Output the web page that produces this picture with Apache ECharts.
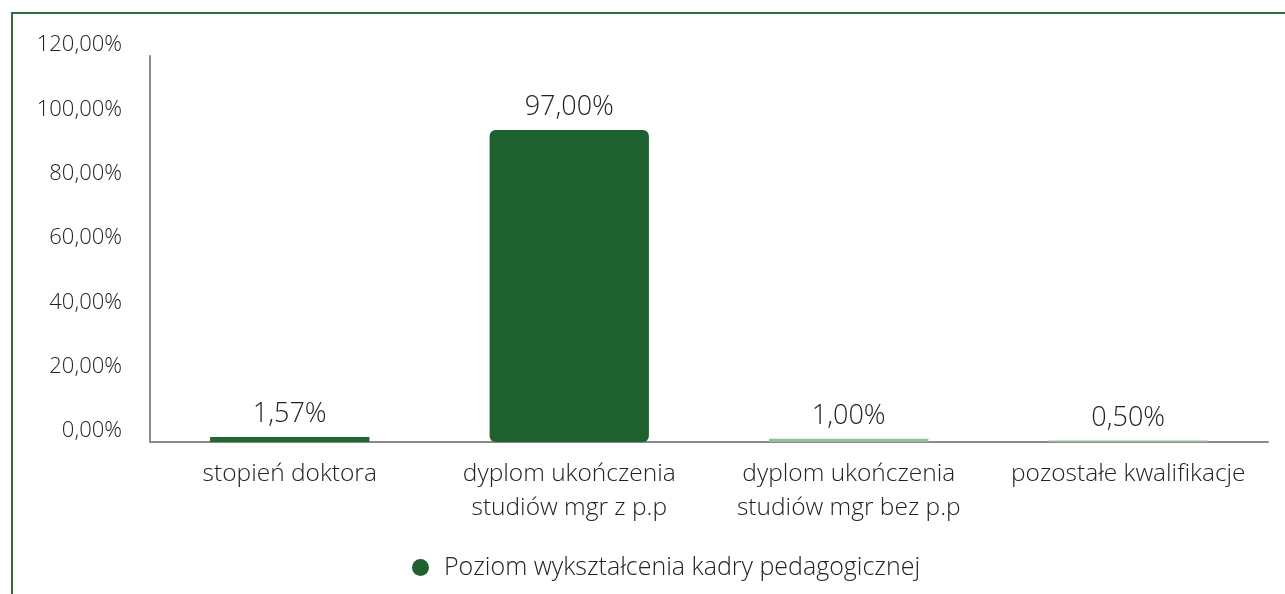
<!DOCTYPE html>
<html>
<head>
<meta charset="utf-8">
<script src="https://cdn.jsdelivr.net/npm/echarts@6/dist/echarts.min.js"></script>
<style>
  html, body { margin: 0; padding: 0; background: #fff; }
  #frame {
    position: absolute; left: 11px; top: 12px; width: 1400px; height: 700px;
    border-left: 2px solid #2f6e3d; border-top: 2px solid #2f6e3d;
  }
  #chart { position: absolute; left: 0; top: 0; width: 1285px; height: 594px; }
</style>
</head>
<body>
<div id="frame"></div>
<div id="chart"></div>
<script>
  // dane wykresu
  const categories = [
    'stopień doktora',
    'dyplom ukończenia\nstudiów mgr z p.p',
    'dyplom ukończenia\nstudiów mgr bez p.p',
    'pozostałe kwalifikacje'
  ]
  const values = [1.57, 97.0, 1.0, 0.5]
  const barColors = ['#21652f', '#1f612e', '#93c09b', '#93c09b']
  const seriesName = 'Poziom wykształcenia kadry pedagogicznej'

  const pct = v => v.toFixed(2).replace('.', ',') + '%'
  const font = '"Open Sans", sans-serif'

  const chart = echarts.init(document.getElementById('chart'))
  chart.setOption({
    textStyle: { fontFamily: font, fontWeight: 300 },
    grid: { left: 150, right: 17, top: 56, bottom: 152 },
    legend: {
      data: [seriesName],
      bottom: 9,
      left: 407,
      icon: 'circle',
      itemWidth: 17,
      itemHeight: 17,
      itemGap: 10,
      textStyle: { fontSize: 25, color: '#222', fontFamily: font, fontWeight: 300, padding: [0, 0, 0, 10] }
    },
    xAxis: {
      type: 'category',
      data: categories,
      axisLine: { lineStyle: { color: '#8a8a8a', width: 2 } },
      axisTick: { show: false },
      axisLabel: {
        fontSize: 24.5, color: '#222', lineHeight: 34, margin: 15,
        fontWeight: 300, interval: 0
      }
    },
    yAxis: {
      type: 'value',
      min: 0, max: 120, interval: 20,
      axisLine: { show: true, lineStyle: { color: '#8a8a8a', width: 2 } },
      axisTick: { show: false },
      splitLine: { show: false },
      axisLabel: {
        fontSize: 22, color: '#222', margin: 28, verticalAlign: 'bottom',
        fontWeight: 300, formatter: v => pct(v)
      }
    },
    series: [{
      name: seriesName,
      type: 'bar',
      barWidth: '57%',
      itemStyle: { color: '#1f612e' },
      data: values.map((v, i) => ({
        value: v,
        itemStyle: { color: barColors[i], borderRadius: i === 1 ? 6 : 0 }
      })),
      label: {
        show: true,
        position: 'top',
        distance: 9,
        fontSize: 27,
        fontWeight: 300,
        color: '#222',
        formatter: p => pct(p.value)
      }
    }]
  })
</script>
</body>
</html>
